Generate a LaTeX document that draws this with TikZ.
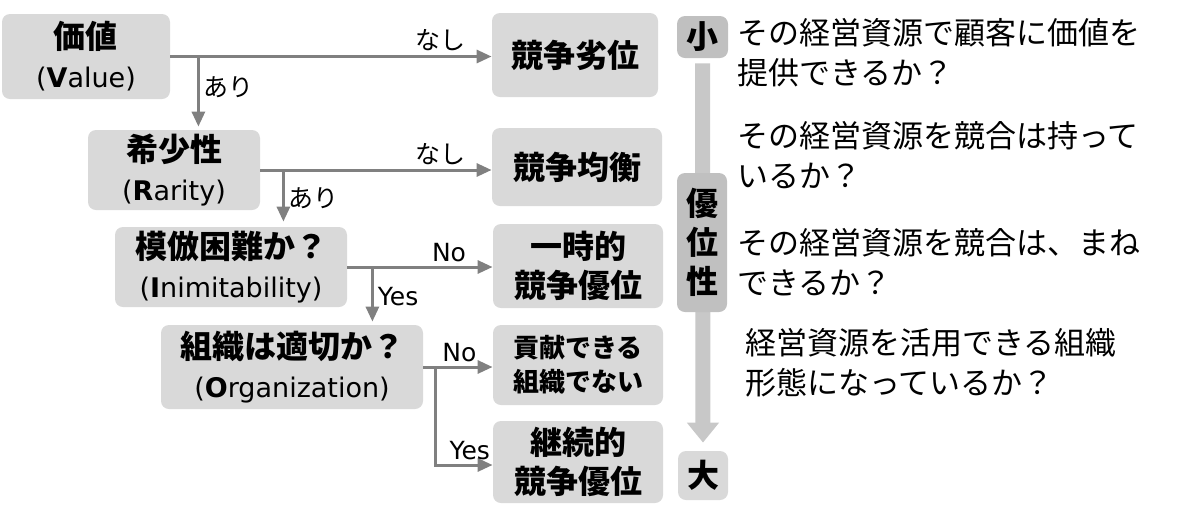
\documentclass[tikz,border=0pt]{standalone}
\usepackage{fontspec}
\setmainfont{Noto Sans CJK JP}
\newfontfamily\lat{DejaVu Sans}
\usetikzlibrary{arrows.meta}

\definecolor{boxgray}{RGB}{217,217,217}
\definecolor{darkgray}{RGB}{192,192,192}
\definecolor{bargray}{RGB}{200,200,200}
\definecolor{linegray}{RGB}{128,128,128}

\newcommand{\sub}[1]{{\lat\mdseries\fontsize{13.5}{16}\selectfont #1}}

\begin{document}
\begin{tikzpicture}[x=0.5pt, y=-0.5pt,
    box/.style={fill=boxgray, rounded corners=4pt, align=center, inner sep=0pt,
      font=\bfseries\fontsize{16}{19.5}\selectfont},
    scalebox/.style={box, fill=darkgray},
    conn/.style={draw=linegray, line width=1.5pt, -{Triangle[length=7.5pt,width=6.5pt]}},
    lbl/.style={inner sep=2pt, font=\fontsize{12.5}{14}\selectfont},
    rtext/.style={anchor=west, align=left, inner sep=0pt, font=\fontsize{15.5}{20}\selectfont}]

      \useasboundingbox (0, 0) rectangle (1200, 526);

      % questions
      \node [box, minimum width=84pt, minimum height=42.5pt]  (val)  at (86, 56.5) {価値\\\sub{(\textbf{V}alue)}};
      \node [box, minimum width=86pt, minimum height=40pt]    (rar)  at (174, 170) {希少性\\\sub{(\textbf{R}arity)}};
      \node [box, minimum width=116pt, minimum height=40pt]   (inim) at (231, 267) {模倣困難か？\\\sub{(\textbf{I}nimitability)}};
      \node [box, minimum width=131pt, minimum height=42pt]   (org)  at (292, 367) {組織は適切か？\\\sub{(\textbf{O}rganization)}};

      % results
      \node [box, minimum width=83pt, minimum height=42pt]    (res1) at (575, 55)  {競争劣位};
      \node [box, minimum width=85pt, minimum height=39pt]    (res2) at (577, 167) {競争均衡};
      \node [box, minimum width=85pt, minimum height=42pt]    (res3) at (578, 266) {一時的\\競争優位};
      \node [box, minimum width=85pt, minimum height=40pt,
             font=\bfseries\fontsize{13}{17}\selectfont]       (res4) at (578, 365) {貢献できる\\組織でない};
      \node [box, minimum width=85pt, minimum height=41pt]    (res5) at (578, 462) {継続的\\競争優位};

      % scale
      \node [scalebox, minimum width=25.5pt, minimum height=21pt] (small) at (702.5, 37) {小};
      \node [box, minimum width=25pt, minimum height=24.5pt]      (big)   at (703, 475.5) {大};
      \draw [bargray, line width=7.5pt, -{Triangle[length=10pt,width=15.5pt]}]
            ([yshift=-2.5pt]small.south) -- ([yshift=4pt]big.north);
      \node [scalebox, minimum width=25pt, minimum height=69.5pt] (mid)   at (702, 242.5) {優\\位\\性};

      % connectors
      \coordinate (b1) at ([xshift=14pt]val.east);
      \coordinate (b2) at ([xshift=11.5pt]rar.east);
      \coordinate (b3) at ([xshift=12.5pt]inim.east);
      \coordinate (b4) at ([xshift=6pt]org.east);

      \draw [conn] (val.east)  -- node[lbl, pos=0.84, above] (l1) {なし} (val.east -| res1.west);
      \draw [conn, shorten >=1.5pt] (b1) -- node[lbl, pos=0.42, right] (l2) {あり} (b1 |- rar.north);
      \draw [conn] (rar.east)  -- node[lbl, pos=0.78, above] (l3) {なし} (rar.east -| res2.west);
      \draw [conn, shorten >=2.5pt] (b2) -- node[lbl, pos=0.49, right] (l4) {あり} (b2 |- inim.north);
      \draw [conn] (inim.east) -- node[lbl, pos=0.70, above] (l5) {\lat No} (inim.east -| res3.west);
      \draw [conn, shorten >=1.5pt] (b3) -- node[lbl, pos=0.51, right] (l6) {\lat Yes} (b3 |- org.north);
      \draw [conn] (org.east)  -- node[lbl, pos=0.52, above] (l7) {\lat No} (org.east -| res4.west);
      \draw [conn] (b4) |- node[lbl, pos=0.80, above] (l8) {\lat Yes} ([yshift=-1.5pt]res5.west);

      % explanations
      \node [rtext] (q1) at (737, 53)  {その経営資源で顧客に価値を\\提供できるか？};
      \node [rtext] (q2) at (737, 155) {その経営資源を競合は持って\\いるか？};
      \node [rtext] (q3) at (737, 262) {その経営資源を競合は、まね\\できるか？};
      \node [rtext] (q4) at (745, 363) {経営資源を活用できる組織\\形態になっているか？};
    \end{tikzpicture}
\end{document}
